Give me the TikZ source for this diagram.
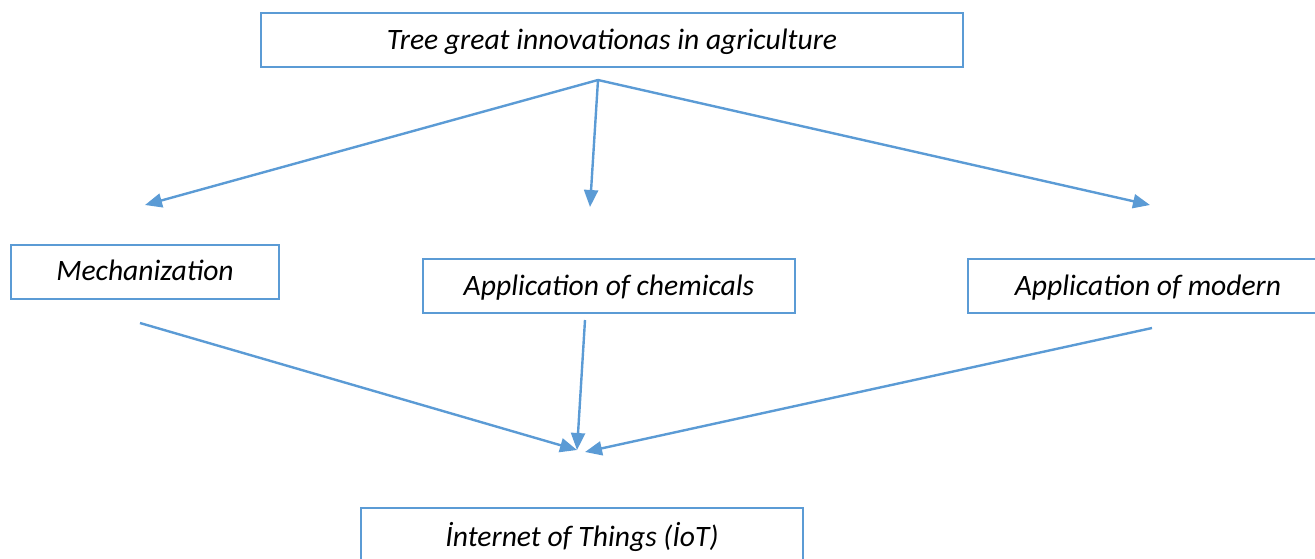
\documentclass[tikz,border=0pt]{standalone}
\usepackage{fontspec}
\setmainfont{Carlito}
\usepackage{tikz}
\usetikzlibrary{arrows.meta, positioning, calc}
\definecolor{officeblue}{RGB}{91,155,213}

\begin{document}
\begin{tikzpicture}[x=0.5pt, y=-0.5pt, font=\fontsize{14.8}{17}\selectfont\itshape,
  box/.style={draw=officeblue, line width=1pt, inner sep=0pt, minimum height=27pt, text depth=1pt},
  link/.style={officeblue, line width=1.2pt, -{Triangle[length=8.5pt, width=7pt]}}]
\useasboundingbox (0,0) rectangle (1315,558);
\node[box, minimum width=351pt] (title) at (612,40) {Tree great innovationas in agriculture};
\node[box, minimum width=134pt] (mech) at (145,271.5) {Mechanization};
\node[box, minimum width=186pt] (chem) at (609,286) {Application of chemicals};
\node[box, minimum width=180pt] (modern) at (1148,286) {Application of modern};
\node[box, minimum width=221pt] (iot) at (582,535) {İnternet of Things (İoT)};
% free ends of the arrows
\coordinate (split) at (598,80);
\coordinate (mechin) at (145,205);
\coordinate (chemin) at (590,207);
\coordinate (modernin) at (1150,205);
\coordinate (mechout) at (140,323);
\coordinate (chemout) at (585,320);
\coordinate (modernout) at (1152,328);
\coordinate (iotinl) at (577,450);
\coordinate (iotinr) at (585,452);
\draw[link] (split) -- (mechin);
\draw[link] (split) -- (chemin);
\draw[link] (split) -- (modernin);
\draw[link] (mechout) -- (iotinl);
\draw[link] (chemout) -- (iotinl);
\draw[link] (modernout) -- (iotinr);
\end{tikzpicture}
\end{document}
